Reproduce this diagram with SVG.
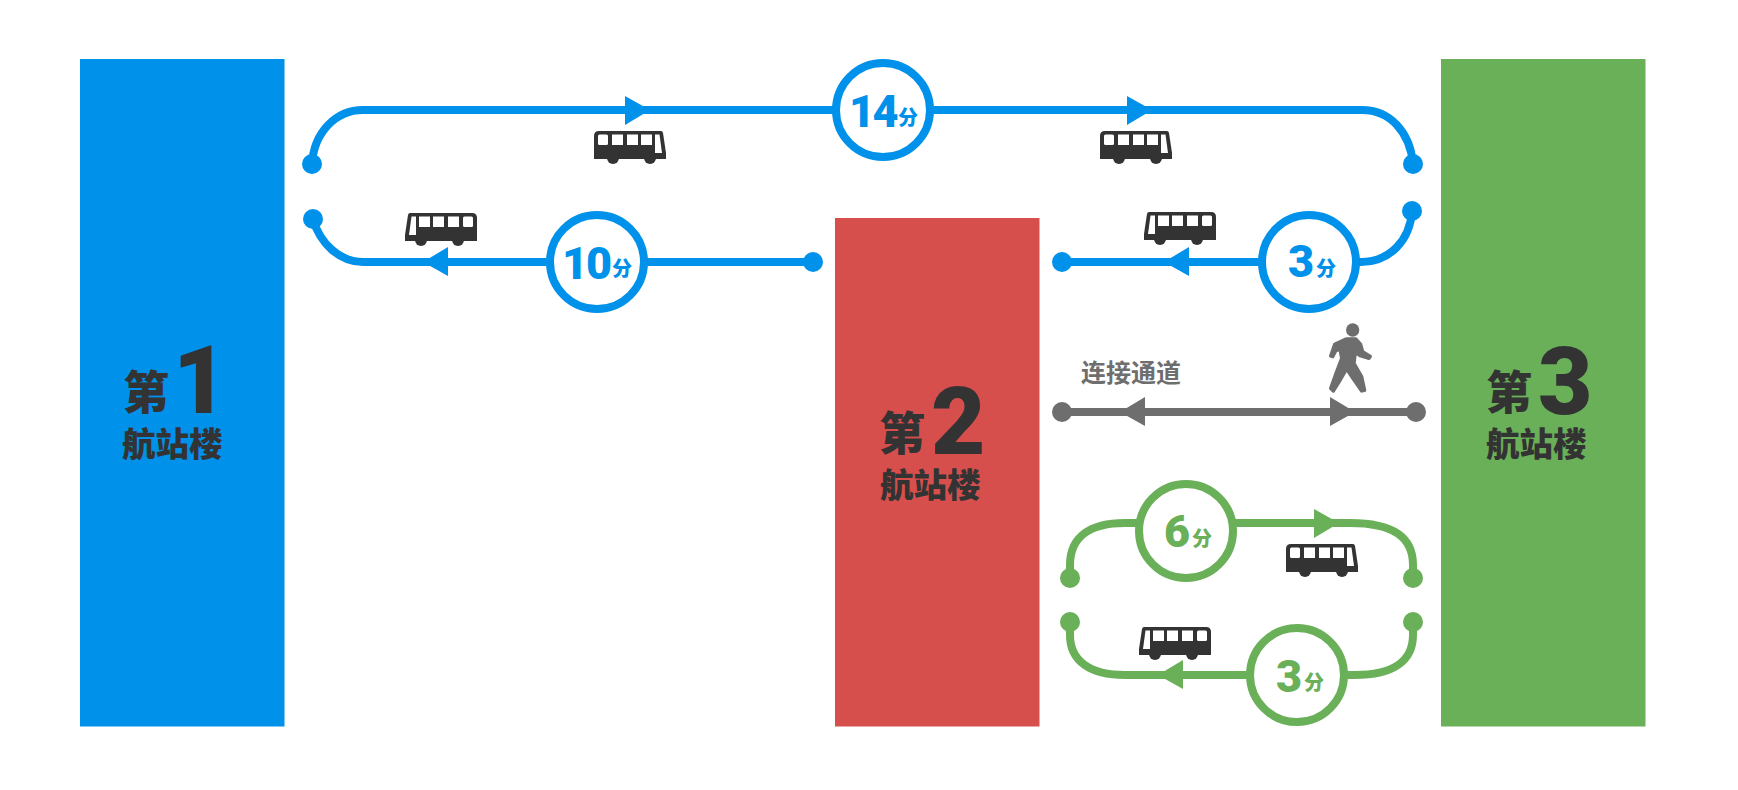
<svg xmlns="http://www.w3.org/2000/svg" width="1738" height="790" viewBox="0 0 1738 790">
<style>
.cjk{font-family:"Noto Sans CJK SC","Noto Sans",sans-serif;font-weight:900}
.num{font-family:"Roboto","Liberation Sans",sans-serif;font-weight:900}
.bignum{font-family:"Roboto","Liberation Sans",sans-serif;font-weight:900}
.dark{fill:#333}
.b{stroke:#0091ea;fill:none;stroke-width:8}
.g{stroke:#6ab058;fill:none;stroke-width:8}
.k{stroke:#6e6e6e;fill:none;stroke-width:8}
.bf{fill:#0091ea}.gf{fill:#6ab058}.kf{fill:#6e6e6e}
.ring{fill:#fff;stroke-width:8}
.t1{font-size:46px}.t2{font-size:33.5px}.big{font-size:94px}
.mins{font-size:45px}.fen{font-size:20px}
</style>
<defs>
<symbol id="bus" viewBox="0 0 72 33" width="72" height="33" overflow="visible">
<path fill="#333" d="M5 0H67Q68.5 0 69 2L72 22V28H0V5Q0 0 5 0Z"/>
<circle cx="19" cy="27" r="6" fill="#333"/><circle cx="56" cy="27" r="6" fill="#333"/>
<g fill="#fff"><rect x="4" y="3.500" width="10" height="10.500" rx="1.500"/><rect x="18" y="3.500" width="11" height="10.500"/><rect x="33" y="3.500" width="11" height="10.500"/><rect x="47" y="3.500" width="11" height="10.500"/><path d="M61 3.500H65.500L68 22H61Z"/></g>
</symbol>
</defs>
<rect width="1738" height="790" fill="#fff"/>
<g id="connectors">
<path class="b" d="M312 164C314 132 336 110 363 110H1362C1390 110 1410 132 1413 164"/>
<path class="b" d="M313 219C320 244 340 262 363 262H813"/>
<path class="b" d="M1062 262H1361C1390 262 1410 240 1412 211"/>
<path class="k" d="M1062 412H1416"/>
<path class="g" d="M1070 578V565C1070 537 1090 523 1125 523H1350C1393 523 1413 537 1413 565V578"/>
<path class="g" d="M1070 622V635C1070 661 1090 675 1125 675H1355C1393 675 1413 661 1413 635V622"/>
<g class="bf">
<circle cx="312" cy="164" r="10"/><circle cx="1413" cy="164" r="10"/><circle cx="313" cy="219" r="10"/><circle cx="813" cy="262" r="10"/><circle cx="1062" cy="262" r="10"/><circle cx="1412" cy="211" r="10"/>
<path d="M625 96L650 110L625 125Z"/><path d="M1127 96L1152 110L1127 125Z"/><path d="M448 247L423 262L448 276Z"/><path d="M1189 247L1164 262L1189 276Z"/>
</g>
<g class="kf">
<circle cx="1062" cy="412" r="10"/><circle cx="1416" cy="412" r="10"/>
<path d="M1145 397L1120 412L1145 426Z"/><path d="M1330 397L1355 412L1330 426Z"/>
</g>
<g class="gf">
<circle cx="1070" cy="578" r="10"/><circle cx="1413" cy="578" r="10"/><circle cx="1070" cy="622" r="10"/><circle cx="1413" cy="622" r="10"/>
<path d="M1314 509L1339 523L1314 538Z"/><path d="M1183 660L1158 675L1183 689Z"/>
</g>
</g>
<g id="terminal-1">
<rect x="80" y="59" width="204.500" height="667.500" fill="#0091ea"/>
<text class="cjk dark t1" x="123" y="409">第</text>
<text class="bignum dark big" x="173" y="413">1</text>
<text class="cjk dark t2" x="122" y="456">航站楼</text>
</g>
<g id="terminal-2">
<rect x="835" y="218" width="204.500" height="508.500" fill="#d64f4c"/>
<text class="cjk dark t1" x="879" y="450">第</text>
<text class="bignum dark big" x="931" y="454">2</text>
<text class="cjk dark t2" x="880" y="497">航站楼</text>
</g>
<g id="terminal-3">
<rect x="1441" y="59" width="204.500" height="667.500" fill="#6ab058"/>
<text class="cjk dark t1" x="1486" y="409">第</text>
<text class="bignum dark big" x="1538" y="414">3</text>
<text class="cjk dark t2" x="1486" y="456">航站楼</text>
</g>
<g id="time-14">
<circle class="b ring" cx="883" cy="110" r="47"/>
<text class="num bf mins" x="849" y="127" letter-spacing="-2.500">14</text>
<text class="cjk bf fen" x="898" y="125">分</text>
</g>
<g id="time-10">
<circle class="b ring" cx="597" cy="262" r="47"/>
<text class="num bf mins" x="562" y="279" letter-spacing="-2">10</text>
<text class="cjk bf fen" x="612" y="276">分</text>
</g>
<g id="time-3-blue">
<circle class="b ring" cx="1309" cy="262" r="47"/>
<text class="num bf mins" x="1288" y="277">3</text>
<text class="cjk bf fen" x="1316" y="276">分</text>
</g>
<g id="time-6">
<circle class="g ring" cx="1186" cy="531" r="47"/>
<text class="num gf mins" x="1164" y="547">6</text>
<text class="cjk gf fen" x="1192" y="546">分</text>
</g>
<g id="time-3-green">
<circle class="g ring" cx="1297" cy="675" r="47"/>
<text class="num gf mins" x="1276" y="692">3</text>
<text class="cjk gf fen" x="1304" y="690">分</text>
</g>
<g id="bus-1"><use href="#bus" x="594" y="131"/></g>
<g id="bus-2"><use href="#bus" x="1100" y="131"/></g>
<g id="bus-3"><use href="#bus" transform="translate(477 213) scale(-1 1)"/></g>
<g id="bus-4"><use href="#bus" transform="translate(1216 212) scale(-1 1)"/></g>
<g id="bus-5"><use href="#bus" x="1286" y="544"/></g>
<g id="bus-6"><use href="#bus" transform="translate(1211 627) scale(-1 1)"/></g>
<g id="walkway-label">
<text class="cjk" x="1081" y="382" font-size="25" style="font-weight:700" fill="#6e6e6e">连接通道</text>
</g>
<g id="walker" transform="translate(1320 315) scale(.3333)">
<circle cx="98" cy="45" r="20" fill="#6e6e6e"/>
<path fill="#6e6e6e" stroke="#6e6e6e" stroke-width="10" stroke-linejoin="round" d="M32 123L44 88L78 72H108L122 88L128 110L151 124L147 130L120 122L106 112L102 145L125 185L134 226L125 228L100 192L80 162L56 203L40 228L32 220L48 175L65 130L60 102L47 108L38 125Z"/>
</g>
</svg>
